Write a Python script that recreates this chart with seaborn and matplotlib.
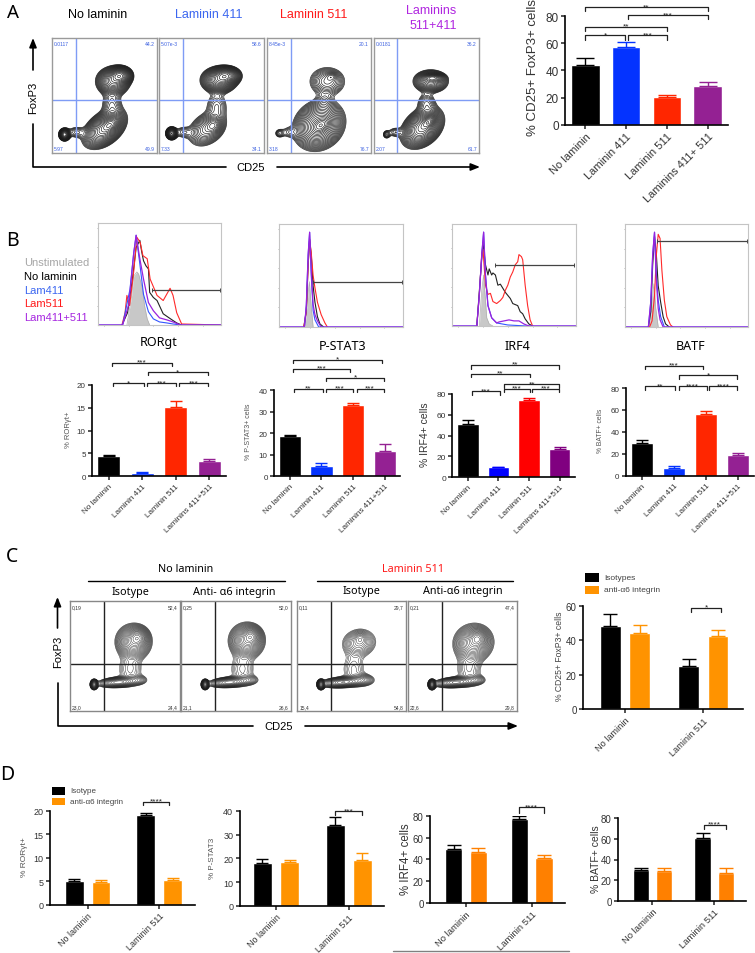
import numpy as np
import pandas as pd
import matplotlib
matplotlib.use("Agg")
import matplotlib.pyplot as plt
import seaborn as sns

W, H = 755, 954

sns.set_theme(style="ticks")
plt.rcParams['font.family'] = ['Liberation Sans', 'DejaVu Sans']
plt.rcParams['axes.linewidth'] = 1.0

# bar values
lam_cats = ["No laminin", "Laminin 411", "Laminin 511", "Laminins 411+511"]
a_cats = ["No laminin", "Laminin 411", "Laminin 511", "Laminins 411+ 511"]
a_vals = [44, 57, 20.5, 28.5]
a_errs = [5, 3.5, 1.2, 3]
rorgt_vals = [4.5, 0.7, 15.2, 3.4]
rorgt_errs = [0.1, 0.15, 1.4, 0.4]
pstat_vals = [18.7, 5, 33.2, 11.9]
pstat_errs = [0.6, 1.2, 1.0, 3.1]
irf4_vals = [51, 9.5, 74, 27.2]
irf4_errs = [4, 0.3, 2.2, 1.6]
batf_vals = [29.5, 6.7, 56.3, 18.9]
batf_errs = [2.7, 1.8, 2.7, 2.1]

groups = ["No laminin", "Laminin 511"]
c_iso = [48, 24.9]
c_iso_err = [7.3, 4.4]
c_anti = [44.4, 42.3]
c_anti_err = [4.4, 3.9]
d_ror_iso = [5.0, 19.1]
d_ror_iso_err = [0.4, 0.4]
d_ror_anti = [4.9, 5.2]
d_ror_anti_err = [0.35, 0.4]
d_pstat_iso = [18.2, 34]
d_pstat_iso_err = [1.7, 3.2]
d_pstat_anti = [18.3, 19.2]
d_pstat_anti_err = [1.1, 2.9]
d_irf_iso = [49.8, 76.6]
d_irf_iso_err = [3, 3.4]
d_irf_anti = [47, 40.9]
d_irf_anti_err = [3, 3]
d_batf_iso = [29.8, 61.2]
d_batf_iso_err = [2.3, 4.9]
d_batf_anti = [28.5, 27.2]
d_batf_anti_err = [3.6, 4.2]

# significance brackets: (from, to, height, stars)
a_br = [(0, 3, 86.4, "**"), (1.05, 3, 80.5, "***"), (0, 2, 72, "**"), (0, 0.97, 65.7, "*"), (1.05, 2, 65.7, "***")]
ror_br = [(0.09, 1.9, 24.9, "***"), (1.16, 2.97, 22.8, "*"), (0.12, 1.05, 20.4, "*"), (1.15, 2, 20.4, "***"), (2.11, 2.97, 20.4, "***")]
pstat_br = [(0.1, 2.91, 54, "*"), (0.1, 1.9, 49.9, "***"), (1.16, 2.97, 45.6, "*"), (0.13, 1.05, 40.6, "**"), (1.15, 2, 40.6, "***"), (2.11, 2.97, 40.6, "***")]
irf_br = [(0.12, 2.97, 107.8, "**"), (0.12, 2.02, 99.5, "**"), (1.18, 2.99, 89.3, "**"), (0.13, 1.05, 82.6, "***"), (1.18, 2.02, 85, "***"), (2.1, 2.99, 85, "***")]
batf_br = [(0.09, 1.9, 100, "***"), (1.17, 2.97, 91.6, "*"), (0.11, 1.04, 81.5, "**"), (1.15, 2.02, 81.5, "****"), (2.11, 2.97, 81.5, "****")]

# histogram outlines, (x %, y %) of the panel
ror_black = ([19.5, 24, 28, 31, 34, 35.5, 37, 39, 41, 42, 45, 48, 53, 59, 64, 68], [0, 12, 45, 76, 83, 72, 63, 58, 55, 32, 27, 24, 11, 6, 2, 0])
ror_red = ([19.5, 22, 23.5, 25.7, 29, 31.6, 34.3, 36.5, 40, 42.4, 48, 53, 58.6, 61, 64, 68, 100], [0, 12, 29, 19, 52, 86, 81, 68, 65, 45, 29, 24, 36, 29, 12, 1, 0])
ror_blue = ([0, 20, 26, 29, 31, 34, 37, 41, 45, 50, 56, 61, 67, 100], [0, 0, 35, 70, 88, 60, 30, 13, 6, 3, 2, 1, 0, 0])
ror_purple = ([0, 20, 25, 29, 31, 34, 37, 41, 45, 50, 56, 61, 67, 100], [0, 0, 20, 70, 88, 65, 45, 22, 14, 7, 5, 3, 0, 0])
ror_grey = ([23.5, 27.5, 29, 31.6, 33, 35.7, 38, 40, 42], [0, 30, 48, 52, 50, 38, 18, 6, 0])

pst_black = ([20, 22, 23.5, 24.7, 26, 27.5, 29, 31, 33, 36], [0, 15, 60, 85, 70, 40, 24, 10, 3, 0])
pst_red = ([20, 22, 23.5, 24.7, 26, 27.5, 29, 31, 34, 37, 39], [0, 15, 60, 85, 72, 50, 38, 24, 12, 4, 0])
pst_blue = ([0, 20.5, 22, 23.5, 24.7, 26, 27.5, 29, 32, 100], [0, 0, 20, 70, 92, 50, 16, 7, 0, 0])
pst_purple = ([0, 20.5, 22, 23.5, 24.7, 26, 27.5, 29, 31, 34, 100], [0, 0, 20, 70, 92, 55, 22, 12, 6, 0, 0])
pst_grey = ([21, 23, 24.5, 26, 27.5], [0, 28, 44, 20, 0])

irf_black = ([20, 23, 25, 27, 29, 30, 32, 33, 35, 37, 39, 41, 43, 45, 47, 49, 51, 53, 55, 57, 59, 62, 65], [0, 50, 82, 60, 50, 56, 50, 52, 50, 40, 41, 37, 33, 30, 27, 22, 21, 20, 14, 12, 7, 2, 0])
irf_red = ([20, 22, 24, 25, 27, 29, 31, 33, 36, 39, 41, 43, 45, 47, 49, 51, 53, 54, 56, 57, 59, 61, 63, 65], [0, 30, 70, 75, 40, 31, 32, 24, 22, 25, 28, 35, 40, 48, 53, 60, 63, 70, 68, 65, 40, 20, 6, 0])
irf_blue = ([0, 20, 22, 24, 25.5, 27, 29, 32, 36, 45, 60, 100], [0, 0, 30, 70, 92, 50, 20, 8, 3, 1, 0, 0])
irf_purple = ([0, 20, 22, 24, 25.5, 27, 29, 32, 36, 38, 42, 46, 50, 54, 58, 62, 100], [0, 0, 30, 70, 92, 50, 20, 8, 3, 4, 5, 6, 5, 5, 2, 0, 0])
irf_grey = ([22, 24, 25.5, 27, 28, 30, 33], [0, 35, 50, 25, 8, 2, 0])

bat_black = ([19, 21, 22.5, 24, 25.5, 27, 29, 31, 33, 36], [0, 15, 60, 88, 70, 40, 24, 10, 3, 0])
bat_red = ([20, 22, 24, 25.5, 27, 28.5, 30, 32, 34, 37, 39], [0, 6, 30, 70, 90, 86, 55, 26, 10, 2, 0])
bat_blue = ([0, 19, 21, 22.5, 24, 25.5, 27, 29, 32, 100], [0, 0, 25, 70, 92, 50, 26, 10, 0, 0])
bat_purple = ([0, 19, 21, 22.5, 24, 25.5, 27, 28.5, 31, 100], [0, 0, 25, 70, 92, 45, 18, 7, 0, 0])
bat_grey = ([20, 22, 23.5, 25, 27], [0, 24, 42, 18, 0])

# FACS populations as seen on the plots: (cx %, cy %, sx, sy, angle, weight).
# These describe the contour shapes, they are estimates and not event data.
a1_pops = [(58, 62, 7, 5.5, 0, 0.7), (65, 67, 5, 3.5, 0, 1.0), (50, 21, 10, 6, 33, 0.8), (56, 25, 5, 3, 33, 0.5),
           (57, 42, 5.5, 6.5, 0, 0.13), (12, 16, 2.4, 2.4, 0, 0.8), (23, 18, 5, 3, 0, 0.1)]
a2_pops = [(57, 63, 7.5, 5, 0, 0.8), (64, 67, 6, 3.5, 0, 1.0), (46, 21, 9.5, 6.5, 30, 0.35), (52, 24, 4, 3.5, 30, 0.25),
           (55, 41, 6, 6.5, 0, 0.12), (12, 17, 2.4, 2.4, 0, 0.9), (23, 18, 5, 3, 0, 0.1)]
a3_pops = [(58, 62, 9, 6.5, 0, 0.2), (62, 66, 3, 2, 0, 0.1), (50, 24, 11, 9, 25, 0.7), (52, 24, 5, 3, 30, 0.5),
           (55, 44, 4.5, 4.5, 0, 0.06), (12, 17, 2.6, 2.2, 0, 0.09), (21, 18, 5, 3, 0, 0.06)]
a4_pops = [(54, 62, 7.5, 4.5, 0, 0.4), (56, 65, 5, 1.8, 0, 0.4), (46, 22, 9.5, 6.5, 35, 0.7), (52, 27, 4, 2.5, 40, 0.5),
           (50, 43, 5, 5, 0, 0.1), (12, 16, 2, 2, 0, 0.1), (20, 18, 4, 2.5, 0, 0.07)]
c1_pops = [(58, 63, 7, 7, 15, 0.7), (62, 67, 4, 4, 0, 0.6), (55, 38, 7, 9, 0, 0.09), (22, 24, 1.5, 2, 0, 1.0), (44, 26, 8.5, 2.2, 4, 0.5), (62, 28, 5, 2.5, 0, 0.1)]
c2_pops = [(60, 64, 7, 7, 20, 0.7), (64, 68, 4, 4, 0, 0.6), (56, 38, 7, 9, 0, 0.09), (22, 24, 1.5, 2, 0, 1.0), (44, 26, 8.5, 2.2, 4, 0.5), (62, 28, 5, 2.5, 0, 0.1)]
c3_pops = [(57, 62, 8, 6.5, 10, 0.2), (58, 66, 3, 3, 0, 0.1), (52, 38, 7, 9, 0, 0.07), (22, 24, 1.5, 2, 0, 1.0), (42, 26, 9, 2.2, 4, 0.55), (60, 28, 6, 3, 0, 0.15)]
c4_pops = [(60, 62, 8, 7.5, 20, 0.55), (64, 66, 4, 4, 0, 0.5), (56, 38, 7, 9, 0, 0.09), (22, 24, 1.5, 2, 0, 1.0), (44, 26, 9, 2.2, 4, 0.5), (62, 28, 5, 2.5, 0, 0.1)]

# quadrant percentages
a1_q = ["0.0117", "44.2", "5.97", "49.9"]
a2_q = ["5.07e-3", "58.6", "7.33", "34.1"]
a3_q = ["8.45e-3", "20.1", "3.18", "76.7"]
a4_q = ["0.0181", "36.2", "2.07", "61.7"]
c1_q = ["0,19", "52,4", "23,0", "24,4"]
c2_q = ["0,25", "52,0", "21,1", "26,6"]
c3_q = ["0,11", "29,7", "15,4", "54,8"]
c4_q = ["0,21", "47,4", "22,6", "29,8"]

BLACK, BLUE, RED, PURPLE = "#000000", "#0433ff", "#ff2600", "#942193"
ORANGE = "#ff9300"
TXT = "#333333"

fig = plt.figure(figsize=(W / 100, H / 100), dpi=100)


def px_axes(x0, y0, x1, y1):
    return fig.add_axes([x0 / W, 1 - y1 / H, (x1 - x0) / W, (y1 - y0) / H])


# overlay in pixel coordinates for the loose text and arrows
ov = fig.add_axes([0, 0, 1, 1], zorder=5)
ov.set_xlim(0, W)
ov.set_ylim(H, 0)
ov.axis("off")


def label(x, y, s, size=8, color="black", rot=0, family=None, ha="center"):
    ov.text(x, y, s, fontsize=size, color=color, rotation=rot, ha=ha, va="center", family=family)


def arrow(x0, y0, x1, y1, lw=1.2):
    ov.annotate("", xy=(x1, y1), xytext=(x0, y0),
                arrowprops=dict(arrowstyle="-|>,head_width=0.18,head_length=0.45", color="black", lw=lw, shrinkA=0, shrinkB=0))


def brackets(ax, items, tip, size=6):
    for x0, x1, y, s in items:
        ax.plot([x0, x0, x1, x1], [y - tip, y, y, y - tip], color="#222222", lw=0.9, clip_on=False)
        ax.annotate(s, ((x0 + x1) / 2, y), xytext=(0, 0.5), textcoords="offset points", ha="center", va="center",
                    fontsize=size, color="#222222", annotation_clip=False)


def style_bar(ax, xlim, ylim, yticks, ticksize, labelsize, rot=45, lw=1.2):
    ax.set_xlim(*xlim)
    ax.set_ylim(*ylim)
    ax.set_yticks(yticks)
    ax.set_xlabel("")
    ax.set_ylabel("")
    ax.tick_params(axis="y", labelsize=ticksize, length=3, width=lw, pad=1.5, colors=TXT)
    ax.tick_params(axis="x", labelsize=labelsize, length=3, width=lw, pad=1.5, colors=TXT, labelrotation=rot)
    plt.setp(ax.get_xticklabels(), ha="right", rotation_mode="anchor")
    for s in ["left", "bottom"]:
        ax.spines[s].set_linewidth(lw)
        ax.spines[s].set_color("black")
    sns.despine(ax=ax)
    ax.patch.set_alpha(0)


def four_bars(box, cats, vals, errs, colors, ylim, yticks, br, tip, ticksize, labelsize, star=6):
    ax = px_axes(*box)
    sns.barplot(x=cats, y=vals, hue=cats, palette=colors, legend=False, width=0.7, saturation=1, ax=ax)
    for i in range(len(vals)):
        ax.errorbar(i, vals[i], yerr=[[0], [errs[i]]], color=colors[i], capsize=ticksize * 0.75, lw=1, capthick=1)
    style_bar(ax, (-0.5, 3.5), ylim, yticks, ticksize, labelsize)
    brackets(ax, br, tip, star)
    return ax


def two_groups(box, iso, iso_err, anti, anti_err, xlim, ylim, yticks, br, tip, ticksize, labelsize, orange=ORANGE, iso_name="Isotype"):
    ax = px_axes(*box)
    df = pd.DataFrame({"group": groups * 2, "cond": [iso_name] * 2 + ["anti"] * 2, "val": iso + anti})
    sns.barplot(data=df, x="group", y="val", hue="cond", palette=[BLACK, orange], width=0.75, gap=0.3,
                saturation=1, legend=False, ax=ax)
    for cont, errs, col in zip(ax.containers, [iso_err, anti_err], [BLACK, orange]):
        for bar, e in zip(cont, errs):
            ax.errorbar(bar.get_x() + bar.get_width() / 2, bar.get_height(), yerr=[[0], [e]], color=col,
                        capsize=ticksize * 0.7, lw=1, capthick=1)
    style_bar(ax, xlim, ylim, yticks, ticksize, labelsize, rot=45)
    brackets(ax, br, tip)
    return ax


def density(pops):
    gx, gy = np.meshgrid(np.linspace(0, 100, 300), np.linspace(0, 100, 300))
    z = np.zeros_like(gx)
    for cx, cy, sx, sy, ang, w in pops:
        t = np.deg2rad(ang)
        u = (gx - cx) * np.cos(t) + (gy - cy) * np.sin(t)
        v = -(gx - cx) * np.sin(t) + (gy - cy) * np.cos(t)
        z += w * np.exp(-0.5 * ((u / sx) ** 2 + (v / sy) ** 2))
    return gx, gy, z / z.max()


def facs(box, pops, qx, qy, q_text, line_col, edge, text_col, nlev, lw):
    ax = px_axes(*box)
    gx, gy, z = density(pops)
    ax.contour(gx, gy, z, levels=np.geomspace(0.03, 0.97, nlev), colors="#1a1a1a", linewidths=lw)
    ax.axvline(qx, color=line_col, lw=1)
    ax.axhline(qy, color=line_col, lw=1)
    ax.set_xlim(0, 100)
    ax.set_ylim(0, 100)
    ax.set_xticks([])
    ax.set_yticks([])
    for s in ax.spines.values():
        s.set_color(edge)
        s.set_linewidth(1)
    fs = 3.6
    ax.text(2, 95, q_text[0], fontsize=fs, color=text_col, va="center")
    ax.text(98, 95, q_text[1], fontsize=fs, color=text_col, va="center", ha="right")
    ax.text(2, 3.5, q_text[2], fontsize=fs, color=text_col, va="center")
    ax.text(98, 3.5, q_text[3], fontsize=fs, color=text_col, va="center", ha="right")


def hist(box, black, red, blue, purple, grey, gate_x0, gate_x1, gate_y):
    ax = px_axes(*box)
    ax.fill_between(grey[0], grey[1], color="#c8c8c8", lw=0)
    ax.plot(grey[0], grey[1], color="#b0b0b0", lw=0.5)
    sns.lineplot(x=black[0], y=black[1], color="#222222", lw=0.8, sort=False, estimator=None, ax=ax)
    sns.lineplot(x=red[0], y=red[1], color="#ff2a2a", lw=0.8, sort=False, estimator=None, ax=ax)
    sns.lineplot(x=blue[0], y=blue[1], color="#3355ff", lw=0.8, sort=False, estimator=None, ax=ax)
    sns.lineplot(x=purple[0], y=purple[1], color="#9a22dd", lw=0.9, sort=False, estimator=None, ax=ax)
    ax.plot([gate_x0, gate_x1], [gate_y, gate_y], color="#444444", lw=0.9, marker="|", ms=3.5, mew=0.7)
    ax.set_xlim(0, 100)
    ax.set_ylim(0, 100)
    ax.set_xticks([5, 25, 45, 65, 85])
    ax.set_yticks([19, 38, 57, 76, 95])
    ax.set_xticklabels([])
    ax.set_yticklabels([])
    ax.tick_params(length=1, width=0.4, color="#777777", pad=0)
    for s in ax.spines.values():
        s.set_color("#c4c4c4")
        s.set_linewidth(0.8)


# ---- panel A
label(13, 13, "A", 13.5, family="Noto Sans")
label(98, 15, "No laminin", 9)
label(209, 15, "Laminin 411", 9, "#3b66f0")
label(314, 15, "Laminin 511", 9, "#ff1a1a")
label(431, 11, "Laminins", 9, "#b026e0")
label(433, 26, "511+411", 9, "#b026e0")
QBLUE = "#7f9cf5"
TBLUE = "#3a5fe0"
facs((52, 38.5, 157, 154), a1_pops, 23, 45.5, a1_q, QBLUE, "#9a9a9a", TBLUE, 24, 0.45)
facs((159, 38.5, 264, 154), a2_pops, 23, 45.5, a2_q, QBLUE, "#9a9a9a", TBLUE, 24, 0.45)
facs((267, 38.5, 371, 154), a3_pops, 23, 45.5, a3_q, QBLUE, "#9a9a9a", TBLUE, 24, 0.45)
facs((374, 38.5, 479, 154), a4_pops, 22, 45.5, a4_q, QBLUE, "#9a9a9a", TBLUE, 24, 0.45)
arrow(33, 71, 33, 39)
ov.plot([33, 33, 226], [125, 168, 168], color="black", lw=1.2)
label(33, 98, "FoxP3", 8, rot=90)
label(251, 168, "CD25", 8)
arrow(277, 168, 480, 168)

four_bars((565, 17, 728, 125.7), a_cats, a_vals, a_errs, [BLACK, BLUE, RED, PURPLE], (0, 80), [0, 20, 40, 60, 80],
          a_br, 3, 8.5, 8)
label(533, 68, "% CD25+ FoxP3+ cells", 9.5, TXT, rot=90)

# ---- panel B
label(12, 241, "B", 14, family="Noto Sans")
label(24, 263, "Unstimulated", 8, "#a6a6a6", ha="left")
label(24, 277, "No laminin", 8, "black", ha="left")
label(24, 291, "Lam411", 8, "#3b66f0", ha="left")
label(24, 304, "Lam511", 8, "#ff1a1a", ha="left")
label(24, 318, "Lam411+511", 8, "#a626e0", ha="left")

hist((98, 224, 221, 326), ror_black, ror_red, ror_blue, ror_purple, ror_grey, 43.8, 99.5, 34.4)
hist((279, 225, 403, 328), pst_black, pst_red, pst_blue, pst_purple, pst_grey, 27.4, 99, 43.5)
hist((452, 225, 576, 327), irf_black, irf_red, irf_blue, irf_purple, irf_grey, 34.4, 98.7, 59.6)
hist((625, 225, 748, 328), bat_black, bat_red, bat_blue, bat_purple, bat_grey, 25.7, 99.5, 83.5)

label(159, 343, "RORgt", 9, family="Noto Sans")
label(343, 347, "P-STAT3", 9, family="Noto Sans")
label(517, 347, "IRF4", 9, family="Noto Sans")
label(691, 347, "BATF", 9, family="Noto Sans")

four_bars((92, 386, 226, 477.3), lam_cats, rorgt_vals, rorgt_errs, [BLACK, BLUE, RED, PURPLE], (0, 20), [0, 5, 10, 15, 20],
          ror_br, 0.7, 5.8, 5.9)
four_bars((274, 391, 400.5, 477.3), lam_cats, pstat_vals, pstat_errs, [BLACK, BLUE, RED, PURPLE], (0, 40), [0, 10, 20, 30, 40],
          pstat_br, 1.4, 5.8, 5.9)
four_bars((452.5, 395, 575, 478.3), lam_cats, irf4_vals, irf4_errs, ["#000000", "#0000ff", "#ff0000", "#800080"], (0, 80), [0, 20, 40, 60, 80],
          irf_br, 3.5, 6, 5.9)
four_bars((625.7, 389, 754, 476.7), lam_cats, batf_vals, batf_errs, [BLACK, BLUE, RED, PURPLE], (0, 80), [0, 20, 40, 60, 80],
          batf_br, 3, 5.8, 5.9)
label(69, 430, "% RORγt+", 5.5, "#555555", rot=90)
label(249, 432, "% P-STAT3+ cells", 5, "#555555", rot=90)
label(425, 435, "% IRF4+ cells", 7.5, TXT, rot=90)
label(600, 431, "% BATF+ cells", 4.9, "#555555", rot=90)

# ---- panel C
label(12, 557, "C", 14, family="Noto Sans")
label(186, 570, "No laminin", 7.8, family="Noto Sans")
label(413, 570, "Laminin 511", 7.8, "#ff1a1a", family="Noto Sans")
ov.plot([88, 285], [582, 582], color="black", lw=1)
ov.plot([316.5, 513], [582, 582], color="black", lw=1)
label(130.5, 593, "Isotype", 7.8, family="Noto Sans")
label(234, 593, "Anti- α6 integrin", 7.8, family="Noto Sans")
label(361, 592, "Isotype", 7.8, family="Noto Sans")
label(463, 592, "Anti-α6 integrin", 7.8, family="Noto Sans")
facs((70, 602.3, 179.6, 711.7), c1_pops, 31, 43, c1_q, "#222222", "#888888", "#333333", 24, 0.3)
facs((181, 602.3, 290.6, 711.7), c2_pops, 31, 43, c2_q, "#222222", "#888888", "#333333", 24, 0.3)
facs((297, 602.3, 406, 711.7), c3_pops, 31, 43, c3_q, "#222222", "#888888", "#333333", 24, 0.3)
facs((408, 602.3, 517, 711.7), c4_pops, 31, 43, c4_q, "#222222", "#888888", "#333333", 24, 0.3)
arrow(57.5, 629, 57.5, 598)
ov.plot([57.5, 57.5, 253], [684, 727, 727], color="black", lw=1.2)
label(58, 652, "FoxP3", 8, rot=90)
label(278.5, 727, "CD25", 8)
arrow(305, 727, 518, 727)

ov.fill_between([585, 599], 574.3, 583.3, color=BLACK, lw=0)
ov.fill_between([585, 599], 586.7, 595.3, color=ORANGE, lw=0)
label(604, 579, "Isotypes", 6, "#444444", ha="left")
label(604, 591, "anti-α6 integrin", 6, "#444444", ha="left")
two_groups((583, 606.7, 742.5, 710.3), c_iso, c_iso_err, c_anti, c_anti_err, (-0.535, 1.5), (0, 60), [0, 20, 40, 60],
           [(0.845, 1.224, 58.9, "*")], 2.5, 7, 6.6)
label(560, 656, "% CD25+ FoxP3+ cells", 6.2, "#444444", rot=90)

# ---- panel D
label(7, 775, "D", 14, family="Noto Sans")
ov.fill_between([52, 65], 787.7, 795.7, color=BLACK, lw=0)
ov.fill_between([52, 65], 799, 806.3, color=ORANGE, lw=0)
label(70, 792, "Isotype", 5.8, "#444444", ha="left")
label(70, 803, "anti-α6 integrin", 5.8, "#444444", ha="left")

two_groups((50, 811.7, 194.7, 905.7), d_ror_iso, d_ror_iso_err, d_ror_anti, d_ror_anti_err, (-0.526, 1.498), (0, 20),
           [0, 5, 10, 15, 20], [(0.775, 1.14, 21.9, "****")], 0.7, 6.5, 6.5)
two_groups((239.5, 811.7, 383.6, 907), d_pstat_iso, d_pstat_iso_err, d_pstat_anti, d_pstat_anti_err, (-0.503, 1.48), (0, 40),
           [0, 10, 20, 30, 40], [(0.81, 1.18, 39.7, "***")], 1.4, 6.5, 6.5)
two_groups((430, 816.7, 565, 904), d_irf_iso, d_irf_iso_err, d_irf_anti, d_irf_anti_err, (-0.548, 1.507), (0, 80),
           [0, 20, 40, 60, 80], [(0.81, 1.18, 87.6, "****")], 5, 7, 6.8, orange="#ff8000")
two_groups((618, 819.3, 746, 901.7), d_batf_iso, d_batf_iso_err, d_batf_anti, d_batf_anti_err, (-0.557, 1.515), (0, 80),
           [0, 20, 40, 60, 80], [(0.83, 1.19, 73.8, "****")], 4, 7, 6.8, orange="#ff8000")
label(25, 857, "% RORγt+", 6, "#555555", rot=90)
label(213, 858, "% P-STAT3", 5.8, "#555555", rot=90)
label(406, 859, "% IRF4+ cells", 8.3, TXT, rot=90)
label(596, 859, "% BATF+ cells", 7.5, TXT, rot=90)
ov.plot([393, 568.6], [952, 952], color="#808080", lw=1)

fig.savefig("out.png", dpi=100)
